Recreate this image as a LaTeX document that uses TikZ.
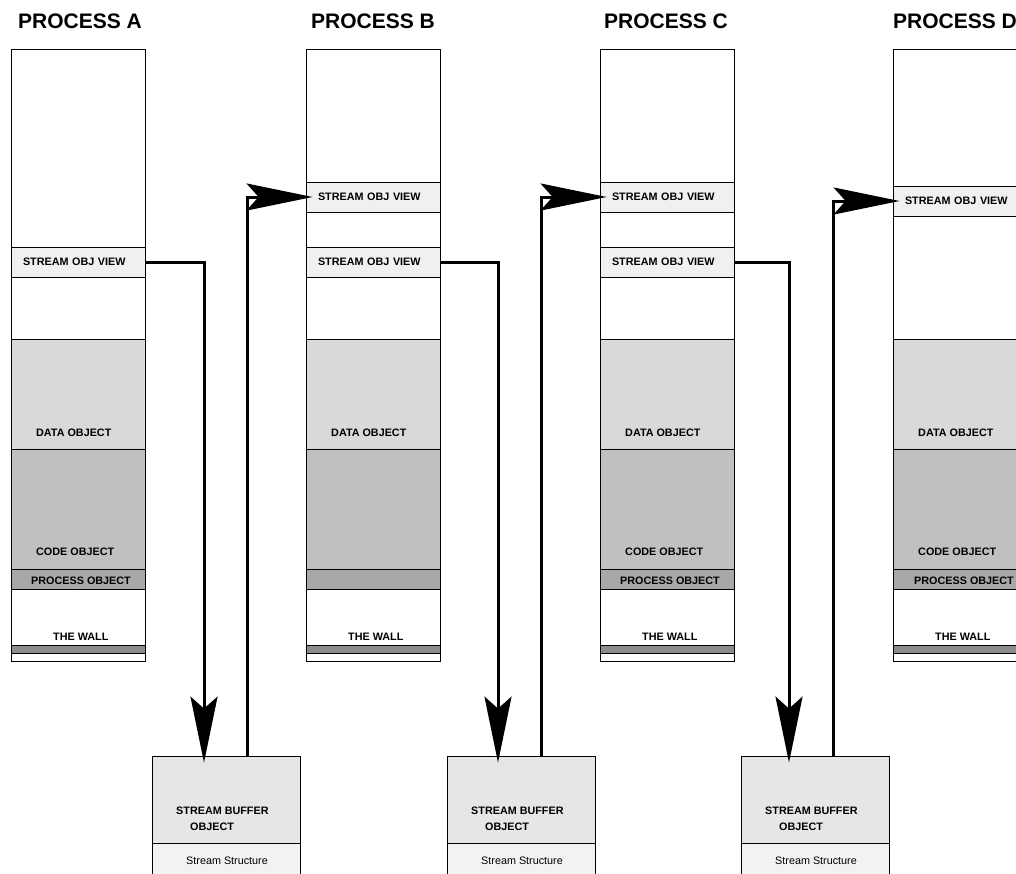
\documentclass[tikz,border=0pt]{standalone}
\usepackage{fontspec}
\setmainfont{Liberation Sans}
\usetikzlibrary{arrows.meta}
\definecolor{viewfill}{HTML}{F0F0F0}
\definecolor{datafill}{HTML}{D9D9D9}
\definecolor{codefill}{HTML}{C0C0C0}
\definecolor{procfill}{HTML}{A8A8A8}
\definecolor{wallfill}{HTML}{8C8C8C}
\definecolor{buffill}{HTML}{E6E6E6}
\definecolor{structfill}{HTML}{F2F2F2}

% one process column: memory stack with data, code, process object and wall
\newcommand\proccol[1]{%
  \fill[white] (#1,49) rectangle (#1+134,661);
  \fill[datafill] (#1,339) rectangle (#1+134,449);
  \fill[codefill] (#1,449) rectangle (#1+134,569);
  \fill[procfill] (#1,569) rectangle (#1+134,589);
  \fill[wallfill] (#1,645) rectangle (#1+134,653);
  \foreach \yy in {339,449,569,589,645,653}
    \draw[thinline] (#1,\yy) -- (#1+134,\yy);
  \draw[thinline] (#1,49) rectangle (#1+134,661);
}

\begin{document}
\begin{tikzpicture}[x=1pt,y=-1pt,
  thinline/.style={draw=black,line width=0.8pt},
  title/.style={font=\fontsize{21}{24}\selectfont\bfseries,anchor=west,inner sep=0pt},
  lbl/.style={font=\fontsize{10.8}{13}\selectfont\bfseries,anchor=west,inner sep=0pt,align=left},
  plain/.style={font=\fontsize{10.8}{13}\selectfont,anchor=west,inner sep=0pt},
  svbox/.style={thinline,fill=viewfill,minimum width=134pt,minimum height=30pt,
    text width=110pt,align=left,inner xsep=12pt,inner ysep=0pt,
    font=\fontsize{10.8}{13}\selectfont\bfseries},
  bufbox/.style={thinline,fill=buffill,minimum width=148pt,minimum height=87pt,inner sep=0pt},
  structbox/.style={thinline,fill=structfill,minimum width=148pt,minimum height=37pt,inner sep=0pt},
  flow/.style={line width=3pt,line join=miter,
    -{Stealth[length=66pt,width=27pt,inset=12pt]},shorten >=-7pt}
]
\useasboundingbox (0,0) rectangle (1016,873);
\clip (0,0) rectangle (1016,873);

% titles
\node[title] (tA) at (18,21) {PROCESS A};
\node[title] (tB) at (311,21) {PROCESS B};
\node[title] (tC) at (604,21) {PROCESS C};
\node[title] (tD) at (893,21) {PROCESS D};

% process columns
\proccol{11}
\proccol{306}
\proccol{600}
\proccol{893}

% column labels
\node[lbl] (dA) at (36,433) {DATA OBJECT};
\node[lbl] (cA) at (36,552) {CODE OBJECT};
\node[lbl] (pA) at (31,581) {PROCESS OBJECT};
\node[lbl] (wA) at (53,637) {THE WALL};

\node[lbl] (dB) at (331,433) {DATA OBJECT};
\node[lbl] (wB) at (348,637) {THE WALL};

\node[lbl] (dC) at (625,433) {DATA OBJECT};
\node[lbl] (cC) at (625,552) {CODE OBJECT};
\node[lbl] (pC) at (620,581) {PROCESS OBJECT};
\node[lbl] (wC) at (642,637) {THE WALL};

\node[lbl] (dD) at (918,433) {DATA OBJECT};
\node[lbl] (cD) at (918,552) {CODE OBJECT};
\node[lbl] (pD) at (914,581) {PROCESS OBJECT};
\node[lbl] (wD) at (935,637) {THE WALL};

% stream object views
\node[svbox] (svA)  at (78,262)  {STREAM OBJ VIEW};
\node[svbox] (svB1) at (373,197) {STREAM OBJ VIEW};
\node[svbox] (svB2) at (373,262) {STREAM OBJ VIEW};
\node[svbox] (svC1) at (667,197) {STREAM OBJ VIEW};
\node[svbox] (svC2) at (667,262) {STREAM OBJ VIEW};
\node[svbox] (svD)  at (960,201) {STREAM OBJ VIEW};

% stream buffer objects
\node[bufbox] (bufA) at (226,799.5) {};
\node[structbox] (stA) at (226,861.5) {};
\node[bufbox] (bufB) at (521,799.5) {};
\node[structbox] (stB) at (521,861.5) {};
\node[bufbox] (bufC) at (815,799.5) {};
\node[structbox] (stC) at (815,861.5) {};

\node[lbl] (bAt1) at (176,811) {STREAM BUFFER};
\node[lbl] (bAt2) at (190,827) {OBJECT};
\node[plain] (sAt) at (186,861) {Stream Structure};
\node[lbl] (bBt1) at (471,811) {STREAM BUFFER};
\node[lbl] (bBt2) at (485,827) {OBJECT};
\node[plain] (sBt) at (481,861) {Stream Structure};
\node[lbl] (bCt1) at (765,811) {STREAM BUFFER};
\node[lbl] (bCt2) at (779,827) {OBJECT};
\node[plain] (sCt) at (775,861) {Stream Structure};

% data flow
\draw[flow] (svA.east) -| ([xshift=-22pt]bufA.north);
\draw[flow] ([xshift=21pt]bufA.north) |- (svB1.west);
\draw[flow] (svB2.east) -| ([xshift=-23pt]bufB.north);
\draw[flow] ([xshift=20pt]bufB.north) |- (svC1.west);
\draw[flow] (svC2.east) -| ([xshift=-26pt]bufC.north);
\draw[flow] ([xshift=18pt]bufC.north) |- (svD.west);
\end{tikzpicture}
\end{document}
